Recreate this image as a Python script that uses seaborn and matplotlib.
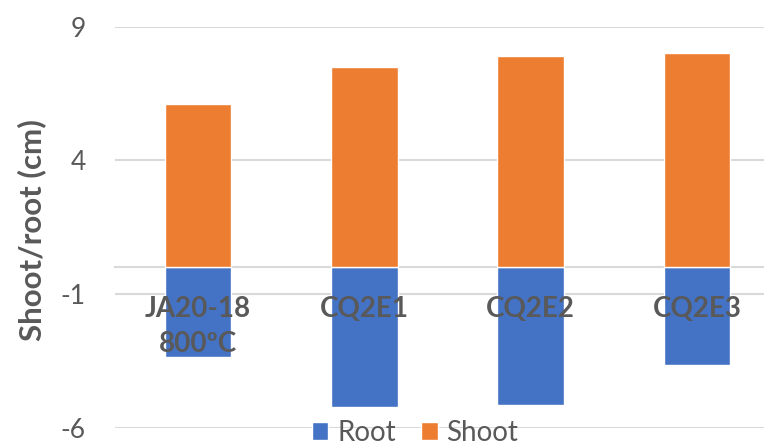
import matplotlib
matplotlib.use("Agg")
import matplotlib.pyplot as plt
import seaborn as sns
import pandas as pd

# Sample labels and measured lengths (cm); root lengths plotted downward
categories = ["JA20-18\n800ºC", "CQ2E1", "CQ2E2", "CQ2E3"]
root_values = [-3.36, -5.24, -5.14, -3.64]
shoot_values = [6.12, 7.51, 7.92, 8.02]
y_ticks = [-6, -1, 4, 9]

series_colors = {"Root": "#4472C4", "Shoot": "#ED7D31"}
text_color = "#595959"
grid_color = "#D9D9D9"

df = pd.DataFrame({
    "sample": categories * 2,
    "length": root_values + shoot_values,
    "part": ["Root"] * len(categories) + ["Shoot"] * len(categories),
})

sns.set_theme(style="white")
plt.rcParams["font.family"] = ["Lato", "DejaVu Sans"]

fig = plt.figure(figsize=(7.64, 4.46), dpi=100)
ax = fig.add_axes([115 / 764, 18.3 / 446, 665 / 764, 401 / 446])

sns.barplot(
    data=df, x="sample", y="length", hue="part", order=categories,
    hue_order=["Root", "Shoot"], palette=series_colors, dodge=False,
    width=0.4, saturation=1, errorbar=None, ax=ax,
)

ax.set_xlim(-0.5, len(categories) - 0.5)
ax.set_ylim(-6, 9)
ax.set_yticks(y_ticks)
ax.set_yticklabels([str(t) for t in y_ticks])

# Horizontal gridlines behind the bars
ax.yaxis.grid(True, color=grid_color, linewidth=1.5)
ax.xaxis.grid(False)
ax.yaxis.set_zorder(0.5)

# Category axis crosses at zero, labels drawn over the bars
for side in ["top", "right", "left"]:
    ax.spines[side].set_visible(False)
ax.spines["bottom"].set_position(("data", 0))
ax.spines["bottom"].set_color(grid_color)
ax.spines["bottom"].set_linewidth(1.5)
ax.spines["bottom"].set_zorder(0.6)
ax.xaxis.set_zorder(5)

ax.tick_params(axis="y", length=0, pad=21, labelsize=19, labelcolor=text_color)
ax.tick_params(axis="x", length=0, pad=21, labelsize=20, labelcolor=text_color)
for lbl in ax.get_xticklabels():
    lbl.set_fontweight("bold")
    lbl.set_linespacing(1.4)

ax.set_xlabel("")
ax.set_ylabel("Shoot/root (cm)", fontsize=22.5, fontweight="bold", color=text_color)
ax.yaxis.set_label_coords(-0.104, 0.493)

handles, labels = ax.get_legend_handles_labels()
ax.legend(
    handles, labels, loc="center", bbox_to_anchor=(415 / 764, 1 - 433 / 446),
    bbox_transform=fig.transFigure, ncol=2, frameon=False, fontsize=20,
    handlelength=0.6, handleheight=0.6, handletextpad=0.32,
    columnspacing=0.9, borderpad=0, labelcolor=text_color,
)

fig.savefig("out.png", dpi=100)
